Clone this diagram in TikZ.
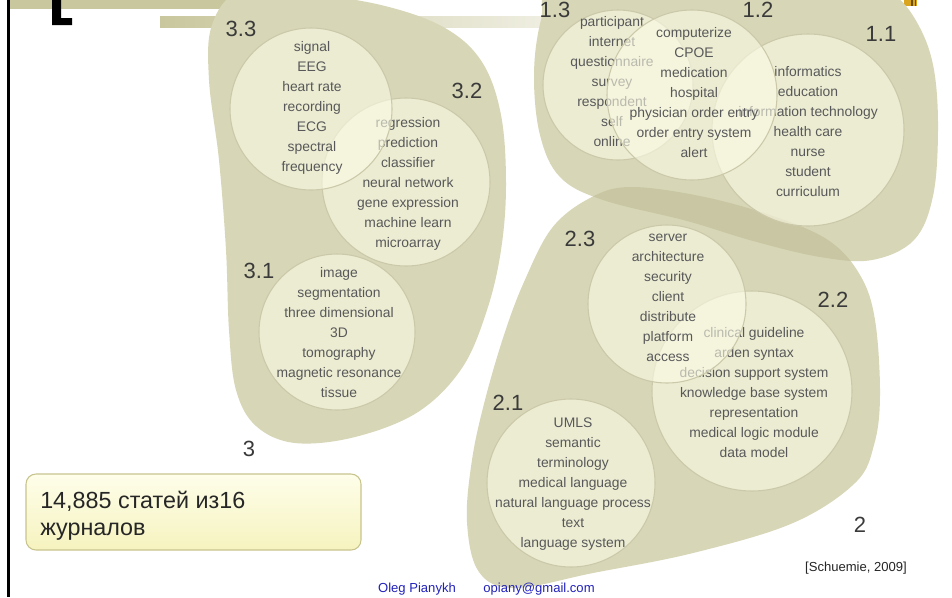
\documentclass[tikz,border=0pt]{standalone}
\usepackage{fontspec}
\setmainfont{Liberation Sans}
\definecolor{blob}{HTML}{D7D6B6}
\definecolor{blobdark}{HTML}{C9C7A3}
\definecolor{circfill}{HTML}{FBFBE6}
\definecolor{circline}{HTML}{CBC9AA}
\definecolor{wordcol}{HTML}{58585A}
\definecolor{labcol}{HTML}{3A3A3A}
\definecolor{barcol}{HTML}{C9C79D}
\definecolor{linkblue}{HTML}{2222BB}
\definecolor{boxtop}{HTML}{FEFEEA}
\definecolor{boxbot}{HTML}{F6F3BF}
\definecolor{boxline}{HTML}{C8C48E}
\definecolor{iconor}{HTML}{D9A41E}
\definecolor{icondk}{HTML}{6B5010}
\newcommand\blobthreepath[1]{\path[#1] plot[smooth cycle,tension=0.6] coordinates {(240,-8) (310,-6) (385,6) (445,28) (482,62) (501,115) (506,185) (501,250) (487,310) (462,368) (418,412) (355,437) (295,443) (256,426) (236,390) (229,330) (226,250) (219,160) (209,80) (212,25)};}
\newcommand\blobonepath[1]{\path[#1] plot[smooth cycle,tension=0.6] coordinates {(560,-25) (541,20) (534,75) (540,135) (560,177) (603,200) (687,221) (753,241) (820,257) (872,260) (914,240) (933,196) (938,130) (934,70) (920,28) (895,-5) (850,-30) (700,-35)};}
\newcommand\blobtwopath[1]{\path[#1] plot[smooth cycle,tension=0.6] coordinates {(630,187) (700,196) (770,215) (828,240) (860,275) (875,320) (880,395) (874,445) (855,483) (793,523) (693,553) (593,573) (515,588) (479,572) (467,522) (472,460) (485,400) (504,335) (524,282) (552,228) (590,198)};}
\newcommand\wordlist[4]{\foreach \w [count=\i from 0] in {#4} {\node[word] (#1-\i) at (#2,{#3+20*\i+4.5}) {\w};}}
\begin{document}
\begin{tikzpicture}[x=0.75pt,y=-0.75pt,
  word/.style={font=\fontsize{10.4pt}{12pt}\selectfont, text=wordcol, inner sep=0pt, anchor=base},
  clabel/.style={font=\fontsize{16.5pt}{18pt}\selectfont, text=labcol, inner sep=0pt},
  circ/.style={circle, fill=circfill, fill opacity=0.6, draw=circline, draw opacity=1, line width=0.8pt, inner sep=0pt},
  boxtxt/.style={font=\fontsize{17.5pt}{20pt}\selectfont, text=black!85, inner sep=0pt, anchor=base west},
  foot/.style={font=\fontsize{9.8pt}{11pt}\selectfont, inner sep=0pt, anchor=base}]
\useasboundingbox (0,0) rectangle (952,597);
\fill[white] (0,0) rectangle (952,597);
% header bars
\fill[barcol] (10,0) rectangle (230,9);
\shade[left color=barcol, right color=barcol!30!white] (160,16) rectangle (548,27);
\fill[black] (52,0) -- (61,0) -- (61,18) -- (72,18) -- (72,25) -- (52,25) -- cycle;
\draw[line width=1.9pt] (8.7,0) -- (8.7,597);
\fill[iconor] (904,0) rectangle (917,6);
\fill[icondk] (911,0) rectangle (912.5,6);
\fill[icondk] (914.5,0) rectangle (916,6);
% blobs
\blobthreepath{fill=blob}
\blobonepath{fill=blob}
\blobtwopath{fill=blob}
\begin{scope}
\blobonepath{clip}
\blobtwopath{fill=blobdark}
\end{scope}
% cluster 3
\node[circ, minimum size=126pt] (c32) at (406,182) {};
\wordlist{w32}{408}{123}{regression,prediction,classifier,neural network,gene expression,machine learn,microarray}
\node[circ, minimum size=121.5pt] (c33) at (311,109) {};
\wordlist{w33}{312}{47}{signal,EEG,heart rate,recording,ECG,spectral,frequency}
\node[circ, minimum size=117pt] (c31) at (337,332) {};
\wordlist{w31}{339}{273}{image,segmentation,three dimensional,3D,tomography,magnetic resonance,tissue}
% cluster 1
\node[circ, minimum size=144pt] (c11) at (808,130) {};
\wordlist{w11}{808}{72}{informatics,education,information technology,health care,nurse,student,curriculum}
\node[circ, minimum size=112.5pt] (c13) at (618,85) {};
\wordlist{w13}{612}{22}{participant,internet,questionnaire,survey,respondent,self,online}
\node[circ, minimum size=127.5pt] (c12) at (692,95) {};
\wordlist{w12}{694}{33}{computerize,CPOE,medication,hospital,physician order entry,order entry system,alert}
% cluster 2
\node[circ, minimum size=150pt] (c22) at (752,391) {};
\wordlist{w22}{754}{333}{clinical guideline,arden syntax,decision support system,knowledge base system,representation,medical logic module,data model}
\node[circ, minimum size=118.5pt] (c23) at (667,304) {};
\wordlist{w23}{668}{237}{server,architecture,security,client,distribute,platform,access}
\node[circ, minimum size=126pt] (c21) at (571,483) {};
\wordlist{w21}{573}{423}{UMLS,semantic,terminology,medical language,natural language process,text,language system}
% labels
\node[clabel] (l33) at (241,29) {3.3};
\node[clabel] (l32) at (467,91) {3.2};
\node[clabel] (l31) at (259,271) {3.1};
\node[clabel] (l3) at (249,449) {3};
\node[clabel] (l13) at (555,10) {1.3};
\node[clabel] (l12) at (758,10) {1.2};
\node[clabel] (l11) at (881,34) {1.1};
\node[clabel] (l23) at (580,239) {2.3};
\node[clabel] (l22) at (833,300) {2.2};
\node[clabel] (l21) at (508,403) {2.1};
\node[clabel] (l2) at (860,525) {2};
% note box
\node[draw=boxline, line width=0.8pt, rounded corners=7.5pt, top color=boxtop, bottom color=boxbot, minimum width=251.25pt, minimum height=57pt, inner sep=0pt] (box) at (193.5,512) {};
\node[boxtxt] (bt1) at (40,508) {14,885 статей из16};
\node[boxtxt] (bt2) at (40,535) {журналов};
% footer
\node[foot, text=linkblue] (author) at (417,592) {Oleg Pianykh};
\node[foot, text=linkblue] (mail) at (539,592) {opiany@gmail.com};
\node[foot, text=black!85] (ref) at (856,571) {[Schuemie, 2009]};
\end{tikzpicture}
\end{document}
